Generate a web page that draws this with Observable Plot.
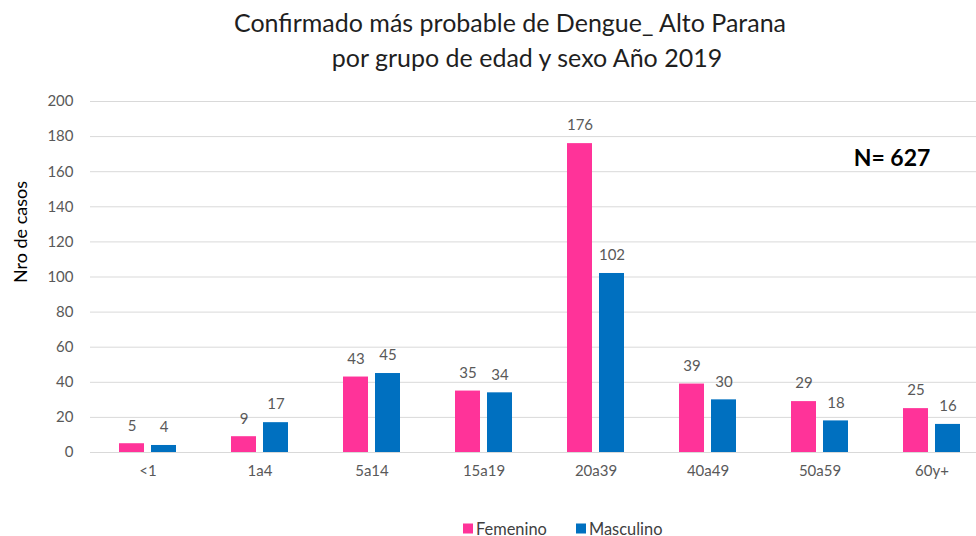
<!DOCTYPE html>
<html><head><meta charset="utf-8">
<script src="https://cdn.jsdelivr.net/npm/d3@7"></script>
<script src="https://cdn.jsdelivr.net/npm/@observablehq/plot@0.6"></script>
<style>
body{margin:0;width:976px;height:536px;overflow:hidden;background:#fff;font-family:Lato,"Open Sans",sans-serif;position:relative}
.t{position:absolute;white-space:nowrap;transform:translate(-50%,-50%)}
.title{font-size:25px;color:#1f1f1f}
#chart{position:absolute;left:0;top:80px}
#chart svg{max-width:none}
#ylab{position:absolute;left:20px;top:232px;transform:translate(-50%,-50%) rotate(-90deg);font-size:18px;color:#000;white-space:nowrap}
#n{font-size:23px;font-weight:bold;color:#000}
#legend{position:absolute;top:528px;left:0;width:976px;font-size:16.4px;color:#404040}
.lg{position:absolute;transform:translateY(-50%);display:flex;align-items:center;white-space:nowrap}
.sw{display:inline-block;width:10px;height:10px;margin-right:3px}
</style></head>
<body>
<div class="t title" style="left:510px;top:22px">Confirmado más probable de Dengue_ Alto Parana</div>
<div class="t title" style="left:527px;top:57px">por grupo de edad y sexo Año 2019</div>
<div id="ylab">Nro de casos</div>
<div id="chart"></div>
<div class="t" id="n" style="left:892px;top:157px">N= 627</div>
<div id="legend"></div>
<script>
const groups = ["<1","1a4","5a14","15a19","20a39","40a49","50a59","60y+"];
const femenino = [5,9,43,35,176,39,29,25];
const masculino = [4,17,45,34,102,30,18,16];
const series = ["Femenino","Masculino"];
const colors = ["#FF3399","#0070C0"];
const yTicks = [0,20,40,60,80,100,120,140,160,180,200];

const fem = groups.map((g,i)=>({group:g, sex:series[0], value:femenino[i]}));
const mas = groups.map((g,i)=>({group:g, sex:series[1], value:masculino[i]}));

const chart = Plot.plot({
  width: 988,
  height: 420,
  marginLeft: 90,
  marginRight: 0,
  marginTop: 21,
  marginBottom: 48,
  style: {fontSize: "15px", fontFamily: "Lato, 'Open Sans', sans-serif", color: "#595959", background: "transparent"},
  x: {domain: groups, paddingInner: 0.4915, paddingOuter: 0.2458, tickSize: 0, tickPadding: 13, label: null},
  y: {domain: [0,200], ticks: yTicks, tickSize: 0, tickPadding: 17, label: null},
  marks: [
    Plot.ruleY(yTicks, {stroke: "#d9d9d9", strokeWidth: 1}),
    Plot.barY(fem, {x: "group", y: "value", fill: colors[0], insetRight: 32}),
    Plot.barY(mas, {x: "group", y: "value", fill: colors[1], insetLeft: 32}),
    Plot.text(fem, {x: "group", y: "value", text: d => String(d.value), dx: -16, dy: -18, fill: "#595959", fontSize: 15}),
    Plot.text(mas, {x: "group", y: "value", text: d => String(d.value), dx: 16, dy: -18, fill: "#595959", fontSize: 15})
  ]
});
document.getElementById("chart").appendChild(chart);

const legend = document.getElementById("legend");
const lx = [463, 576];
series.forEach((s,i)=>{
  const el = document.createElement("div");
  el.className = "lg";
  el.style.left = lx[i] + "px";
  el.innerHTML = `<span class="sw" style="background:${colors[i]}"></span>${s}`;
  legend.appendChild(el);
});
</script>
</body></html>
